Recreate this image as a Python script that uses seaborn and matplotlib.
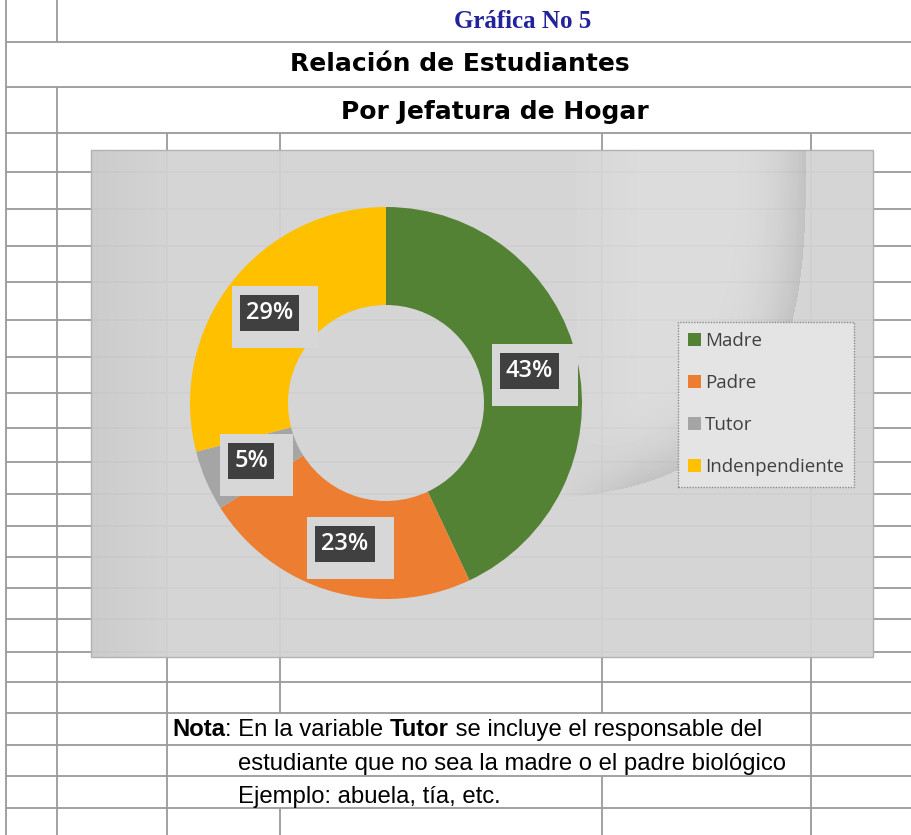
import numpy as np
import seaborn as sns
import matplotlib.pyplot as plt
from matplotlib import transforms
from matplotlib.patches import Patch, Rectangle

# datos de la grafica
categorias = ['Madre', 'Padre', 'Tutor', 'Indenpendiente']
porcentajes = [43, 23, 5, 29]
colores = ['#548235', '#ED7D31', '#A5A5A5', '#FFC000']

titulo = 'Gráfica No 5'
subtitulo_1 = 'Relación de Estudiantes'
subtitulo_2 = 'Por Jefatura de Hogar'
nota_1 = [('Nota', 'bold'), (': En la variable ', 'normal'), ('Tutor', 'bold'),
          (' se incluye el responsable del', 'normal')]
nota_2 = 'estudiante que no sea la madre o el padre biológico'
nota_3 = 'Ejemplo: abuela, tía, etc.'

W, H = 911, 835


def dibujar_hoja(bg):
    # cuadricula tipo hoja de calculo (pixeles)
    filas = [42, 87, 133, 172, 209, 246, 282, 320, 357, 393, 428, 462, 494,
             526, 557, 588, 619, 652, 682, 713, 745, 776, 808]
    kw = dict(color='#9a9a9a', lw=1.3, zorder=1)
    bg.hlines(filas, 6, W, **kw)
    bg.vlines(6, 0, H, **kw)
    bg.vlines(57, 0, 42, **kw)
    bg.vlines(57, 87, H, **kw)
    bg.vlines([167, 811], 133, H, **kw)
    bg.vlines(280, 133, 713, **kw)
    bg.vlines(280, 808, H, **kw)
    bg.vlines(602, 133, 713, **kw)
    bg.vlines(602, 776, H, **kw)


def fondo_grafico(bg, x0=91, x1=873, y0=150, y1=657, alpha=0.95):
    yy, xx = np.mgrid[y0:y1, x0:x1] + 0.5
    img = np.full(xx.shape, 0.835)
    franja = xx < 167
    img[franja] = 0.80 + 0.03 * (xx[franja] - x0) / 76
    s = (np.abs(xx - 470) / 336) ** 3 + (np.abs(yy - 150) / 350) ** 3
    sombra = 0.86 - 0.10 * np.clip((s - 0.45) / 0.55, 0, 1) ** 2
    w = np.clip((xx - 560) / 80, 0, 1)
    dentro = s < 1
    img[dentro] = img[dentro] * (1 - w[dentro]) + sombra[dentro] * w[dentro]
    fuera = (~dentro) & (yy < 520) & (xx > 600)
    img[fuera] = 0.84
    img = (img - (1 - alpha)) / alpha
    bg.imshow(img, cmap='gray', vmin=0, vmax=1, extent=(x0, x1, y1, y0),
              aspect='auto', interpolation='bilinear', alpha=alpha, zorder=2)
    bg.add_patch(Rectangle((x0, y0), x1 - x0, y1 - y0, fill=False,
                           ec='#b2b2b2', lw=1, zorder=3))


if __name__ == '__main__':
    sns.set_theme(style='white')
    plt.rcParams['font.family'] = ['DejaVu Sans']
    paleta = sns.color_palette(colores)

    fig = plt.figure(figsize=(W / 100, H / 100), dpi=100)
    bg = fig.add_axes([0, 0, 1, 1])
    bg.set_xlim(0, W)
    bg.set_ylim(H, 0)
    bg.axis('off')

    dibujar_hoja(bg)
    fondo_grafico(bg)

    bg.text(523, 21, titulo, ha='center', va='center', color='#22229a',
            fontfamily='Liberation Serif', fontweight='bold', fontsize=18)
    bg.text(460, 64, subtitulo_1, ha='center', va='center', color='black',
            fontweight='bold', fontsize=18)
    bg.text(495, 112, subtitulo_2, ha='center', va='center', color='black',
            fontweight='bold', fontsize=18)

    # nota al pie con partes en negrita
    fuente_nota = dict(fontfamily='Liberation Sans', fontsize=17.2, color='black')
    t = bg.text(172, 741, nota_1[0][0], va='bottom', fontweight=nota_1[0][1], **fuente_nota)
    for texto, peso in nota_1[1:]:
        t = bg.annotate(texto, xy=(1, 0), xycoords=t, va='bottom', ha='left',
                        fontweight=peso, **fuente_nota)
    bg.text(238, 775, nota_2, va='bottom', **fuente_nota)
    bg.text(238, 808, nota_3, va='bottom', **fuente_nota)

    # dona
    cx, cy, r = 386, 403, 196
    ax = fig.add_axes([(cx - 200) / W, 1 - (cy + 200) / H, 400 / W, 400 / H])
    wedges, _, autotexts = ax.pie(
        porcentajes, colors=paleta, startangle=90, counterclock=False,
        wedgeprops=dict(width=0.5, edgecolor='none'),
        autopct='%1.0f%%', pctdistance=0.75,
        textprops=dict(color='white', fontsize=17, fontfamily='Open Sans',
                       fontweight='semibold'))
    ax.set_xlim(-200 / r, 200 / r)
    ax.set_ylim(-200 / r, 200 / r)
    ax.axis('off')

    for t in autotexts:
        t.set_bbox(dict(boxstyle='square,pad=0.25', fc='#404040', ec='none'))
        t.set_zorder(4)

    # marco claro detras de cada etiqueta (en pixeles)
    fig.canvas.draw()
    for t in autotexts:
        bb = t.get_bbox_patch().get_window_extent()
        marco = Rectangle((bb.x0 - 8, bb.y0 - 17), bb.width + 27, bb.height + 26,
                          transform=transforms.IdentityTransform(),
                          fc='#d7d7d7', ec='none', zorder=3, clip_on=False)
        ax.add_patch(marco)

    handles = [Patch(facecolor=c, edgecolor='none') for c in paleta]
    leg = fig.legend(handles, categorias, loc='upper left',
                     bbox_to_anchor=(678 / W, 1 - 322 / H), borderaxespad=0,
                     frameon=True, fancybox=False, facecolor='#e4e4e4',
                     edgecolor='#8c8c8c', framealpha=1,
                     prop=dict(family='Open Sans', size=13.5), labelcolor='#404040',
                     handlelength=0.68, handleheight=0.68, handletextpad=0.22,
                     labelspacing=1.28, borderpad=0.55)
    leg.get_frame().set_linestyle((0, (1, 1)))

    fig.savefig('out.png', dpi=100)
